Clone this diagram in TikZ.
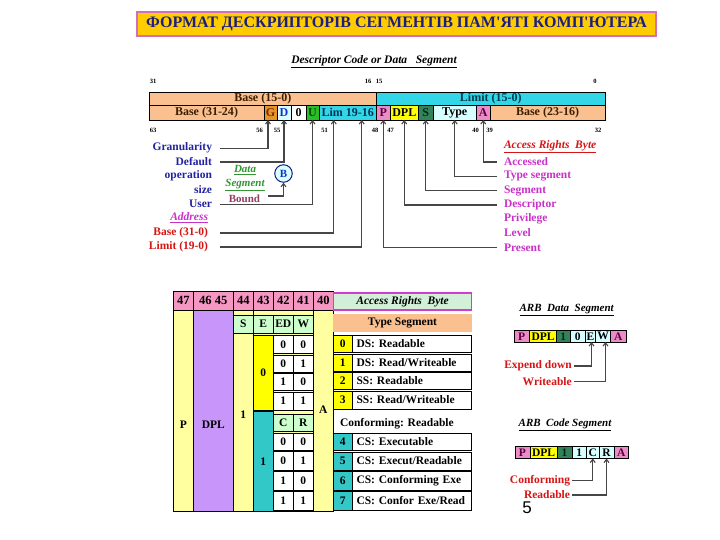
\documentclass[tikz,border=0pt]{standalone}
\usepackage{fontspec}
\setmainfont{Liberation Serif}
\newfontfamily\sansf{Liberation Sans}
\usetikzlibrary{arrows.meta}
\definecolor{peach}{RGB}{250,192,143}
\definecolor{regcyan}{RGB}{51,214,230}
\definecolor{gorange}{RGB}{230,150,40}
\definecolor{lcyan}{RGB}{215,255,255}
\definecolor{ugreen}{RGB}{40,190,40}
\definecolor{ppink}{RGB}{235,140,200}
\definecolor{dyellow}{RGB}{255,255,0}
\definecolor{sgreen}{RGB}{51,130,90}
\definecolor{hdrpink}{RGB}{245,150,195}
\definecolor{lyellow}{RGB}{255,255,160}
\definecolor{lavender}{RGB}{200,150,250}
\definecolor{lgreen}{RGB}{204,255,204}
\definecolor{tcyan}{RGB}{51,200,200}
\definecolor{argreen}{RGB}{210,240,215}
\definecolor{armag}{RGB}{210,60,210}
\definecolor{titlegold}{RGB}{255,204,0}
\definecolor{titleborder}{RGB}{210,110,190}
\definecolor{navy}{RGB}{30,30,130}
\definecolor{lblue}{RGB}{35,35,160}
\definecolor{lred}{RGB}{215,20,20}
\definecolor{lmag}{RGB}{200,50,200}
\definecolor{dgreen}{RGB}{50,150,50}
\definecolor{plum}{RGB}{150,60,100}
\definecolor{lgray}{RGB}{70,70,70}
\definecolor{brn}{RGB}{60,30,0}
\definecolor{tealtext}{RGB}{0,60,80}
\definecolor{gtext}{RGB}{120,40,0}
\definecolor{dtext}{RGB}{20,50,200}
\definecolor{utext}{RGB}{0,80,0}
\definecolor{limtext}{RGB}{0,50,90}
\definecolor{ptext}{RGB}{90,0,60}
\definecolor{stext}{RGB}{0,40,20}
\newcommand{\mycell}[7]{%
  \pgfmathsetmacro\myw{#4-#2}\pgfmathsetmacro\myh{#5-#3}%
  \pgfmathsetmacro\myx{(#2+#4)/2}\pgfmathsetmacro\myy{(#3+#5)/2}%
  \node[cellbox,minimum width=\myw pt,minimum height=\myh pt,#6] (#1) at (\myx,\myy) {#7};}
\newcommand{\mycellL}[7]{%
  \pgfmathsetmacro\myw{#4-#2}\pgfmathsetmacro\myh{#5-#3}\pgfmathsetmacro\mytw{#4-#2-9}%
  \pgfmathsetmacro\myx{(#2+#4)/2}\pgfmathsetmacro\myy{(#3+#5)/2}%
  \node[cellbox,minimum width=\myw pt,minimum height=\myh pt,text width=\mytw pt,align=left,inner xsep=4.5pt,#6] (#1) at (\myx,\myy) {#7};}
\tikzset{
  cellbox/.style={draw=black,line width=0.6pt,inner sep=0pt,outer sep=0pt,font=\bfseries\fontsize{11.5}{12}\selectfont},
  regf/.style={font=\bfseries\fontsize{12}{12}\selectfont},
  hfont/.style={font=\bfseries\fontsize{12.5}{13}\selectfont},
  lab/.style={inner sep=0pt,outer sep=0pt,font=\bfseries\fontsize{11.5}{12}\selectfont},
  bitn/.style={inner sep=0pt,font=\bfseries\fontsize{6.5}{7}\selectfont},
  conn/.style={draw=lgray,line width=1.1pt,-{Straight Barb[length=3.2pt,width=5pt]}},
}
\begin{document}
\begin{tikzpicture}[x=1pt,y=-1pt]
\useasboundingbox (0,0) rectangle (720,540);
\fill[white] (0,0) rectangle (720,540);
% title
\node[draw=titleborder,line width=1.2pt,fill=titlegold,minimum width=519pt,minimum height=24pt,inner sep=0pt,text=navy,font=\bfseries\fontsize{16}{17}\selectfont] (title) at (396.5,24) {ФОРМАТ ДЕСКРИПТОРІВ СЕГМЕНТІВ ПАМ\textquotesingle ЯТІ КОМП\textquotesingle ЮТЕРА};
\node[lab,font=\bfseries\itshape\fontsize{11.5}{12}\selectfont] (dhead) at (374,62) {\underline{Descriptor Code or Data~~~Segment}};
% bit numbers
\node[bitn] (n31) at (153,81.5) {31};
\node[bitn] (n16) at (368,81.5) {16};
\node[bitn] (n15) at (379,81.5) {15};
\node[bitn] (n0) at (595,81.5) {0};
\node[bitn] (n63) at (153,130.5) {63};
\node[bitn] (n56) at (259.5,130.5) {56};
\node[bitn] (n55) at (277,130.5) {55};
\node[bitn] (n51) at (324.5,130.5) {51};
\node[bitn] (n48) at (375,130.5) {48};
\node[bitn] (n47) at (390.5,130.5) {47};
\node[bitn] (n40) at (475.5,130.5) {40};
\node[bitn] (n39) at (489.5,130.5) {39};
\node[bitn] (n32) at (598,130.5) {32};
% register
\mycell{btop}{149}{92}{376.5}{105.5}{fill=peach,text=brn,regf}{Base (15-0)}
\mycell{ltop}{376.5}{92}{605}{105.5}{fill=regcyan,text=tealtext,regf}{Limit (15-0)}
\mycell{b3124}{149}{105.5}{264}{120}{fill=peach,text=brn,regf}{Base (31-24)}
\mycell{G}{264}{105.5}{277}{120}{fill=gorange,text=gtext,regf}{G}
\mycell{D}{277}{105.5}{291}{120}{fill=lcyan,text=dtext,regf}{D}
\mycell{zr}{291}{105.5}{306}{120}{fill=white,regf}{0}
\mycell{U}{306}{105.5}{319}{120}{fill=ugreen,text=utext,regf}{U}
\mycell{lim}{319}{105.5}{376.5}{120}{fill=regcyan,text=limtext,regf}{Lim 19-16}
\mycell{P}{376.5}{105.5}{390}{120}{fill=ppink,text=ptext,regf}{P}
\mycell{DPL}{390}{105.5}{418.5}{120}{fill=dyellow,regf}{DPL}
\mycell{S}{418.5}{105.5}{433}{120}{fill=sgreen,text=stext,regf}{S}
\mycell{type}{433}{105.5}{476.5}{120}{fill=lcyan,regf}{Type}
\mycell{A}{476.5}{105.5}{490}{120}{fill=ppink,text=ptext,regf}{A}
\mycell{b2316}{490}{105.5}{605}{120}{fill=peach,text=brn,regf}{Base (23-16)}
% left labels
\node[lab,anchor=east,text=lblue] (gran) at (212,147.5) {Granularity};
\node[lab,anchor=east,text=lblue] (deflt) at (212,161.5) {Default};
\node[lab,anchor=east,text=lblue] (oper) at (212,175.5) {operation};
\node[lab,anchor=east,text=lblue] (sizel) at (212,190) {size};
\node[lab,anchor=east,text=lblue] (user) at (212,204) {User};
\node[lab,anchor=east,text=lmag,font=\bfseries\itshape\fontsize{11.5}{12}\selectfont] (addr) at (208,218) {\underline{Address}};
\node[lab,anchor=east,text=lred] (base) at (208,232.5) {Base (31-0)};
\node[lab,anchor=east,text=lred] (limit) at (208,247) {Limit (19-0)};
\node[lab,text=dgreen,font=\bfseries\itshape\fontsize{11}{12}\selectfont] (dseg1) at (245,170) {\underline{Data}};
\node[lab,text=dgreen,font=\bfseries\itshape\fontsize{11}{12}\selectfont] (dseg2) at (245,185) {\underline{Segment}};
\node[lab,text=plum,font=\bfseries\fontsize{11}{12}\selectfont] (bound) at (244.5,199) {Bound};
\node[circle,draw=navy,fill=lcyan,line width=1pt,minimum size=17.5pt,inner sep=0pt,text=dtext,font=\bfseries\fontsize{11}{12}\selectfont] (bc) at (283.5,173.5) {B};
% right labels
\node[lab,anchor=west,text=lred,font=\bfseries\itshape\fontsize{11.5}{12}\selectfont] (arbl) at (504,146.5) {\underline{Access Rights~~Byte}};
\node[lab,anchor=west,text=lmag] (acc) at (504,161.5) {Accessed};
\node[lab,anchor=west,text=lmag] (tseg) at (504,176) {Type segment};
\node[lab,anchor=west,text=lmag] (segl) at (504,190.5) {Segment};
\node[lab,anchor=west,text=lmag] (desc) at (504,204.5) {Descriptor};
\node[lab,anchor=west,text=lmag] (priv) at (504,219) {Privilege};
\node[lab,anchor=west,text=lmag] (levl) at (504,233) {Level};
\node[lab,anchor=west,text=lmag] (pres) at (504,247.5) {Present};
% connectors
\draw[conn] ([xshift=8pt,yshift=-1pt]gran.east) -| ([xshift=-2.5pt]G.south);
\draw[conn] ([xshift=8pt,yshift=-0.5pt]deflt.east) -| (D.south);
\draw[conn] ([xshift=8pt,yshift=-0.5pt]user.east) -| (U.south);
\draw[conn] ([xshift=12pt,yshift=-0.5pt]base.east) -| ([xshift=-14pt]lim.south);
\draw[conn] ([xshift=12pt]limit.east) -| ([xshift=14pt]lim.south);
\draw[conn] ([xshift=8pt,yshift=3pt]bound.east) -| (bc.south);
\draw[conn] ([xshift=-7pt,yshift=-0.5pt]acc.west) -| (A.south);
\draw[conn] ([xshift=-7pt,yshift=-0.5pt]tseg.west) -| (type.south);
\draw[conn] ([xshift=-7pt]segl.west) -| (S.south);
\draw[conn] ([xshift=-7pt,yshift=-0.5pt]desc.west) -| (DPL.south);
\draw[conn] ([xshift=-7pt]pres.west) -| (P.south);
% table left part
\fill[lyellow] (173.3,310) rectangle (333.3,511.5);
\mycell{h47}{173.3}{291.5}{193.3}{310}{fill=hdrpink,hfont}{47}
\mycell{h4645}{193.3}{291.5}{233.3}{310}{fill=hdrpink,hfont}{46 45}
\mycell{h44}{233.3}{291.5}{253.3}{310}{fill=hdrpink,hfont}{44}
\mycell{h43}{253.3}{291.5}{273.3}{310}{fill=hdrpink,hfont}{43}
\mycell{h42}{273.3}{291.5}{293.3}{310}{fill=hdrpink,hfont}{42}
\mycell{h41}{293.3}{291.5}{313.3}{310}{fill=hdrpink,hfont}{41}
\mycell{h40}{313.3}{291.5}{333.3}{310}{fill=hdrpink,hfont}{40}
\mycell{cP}{173.3}{310}{193.3}{511.5}{fill=lyellow}{}
\mycell{cDPL}{193.3}{310}{233.3}{511.5}{fill=lavender}{}
\mycell{c44}{233.3}{310}{253.3}{511.5}{fill=lyellow}{}
\mycell{c40}{313.3}{310}{333.3}{511.5}{fill=lyellow}{}
\node[lab] (tP) at (183.3,424.5) {P};
\node[lab] (tDPL) at (213.3,424.5) {DPL};
\node[lab] (t44) at (243.3,415) {1};
\node[lab] (t40) at (323.3,409.5) {A};
\mycell{sS}{233.3}{315}{253.3}{333}{fill=lgreen}{S}
\mycell{sE}{253.3}{315}{273.3}{333}{fill=lgreen}{E}
\mycell{sED}{273.3}{315}{293.3}{333}{fill=lgreen}{ED}
\mycell{sW}{293.3}{315}{313.3}{333}{fill=lgreen}{W}
\mycell{eyel}{253.3}{335}{273.3}{410}{fill=dyellow}{0}
\mycell{a1}{273.3}{335}{293.3}{353.5}{fill=white}{0}
\mycell{b1}{293.3}{335}{313.3}{353.5}{fill=white}{0}
\mycell{a2}{273.3}{355}{293.3}{372}{fill=white}{0}
\mycell{b2}{293.3}{355}{313.3}{372}{fill=white}{1}
\mycell{a3}{273.3}{373.5}{293.3}{390.5}{fill=white}{1}
\mycell{b3}{293.3}{373.5}{313.3}{390.5}{fill=white}{0}
\mycell{a4}{273.3}{392}{293.3}{410}{fill=white}{1}
\mycell{b4}{293.3}{392}{313.3}{410}{fill=white}{1}
\mycell{ecyan}{253.3}{411.7}{273.3}{511.5}{fill=tcyan}{1}
\mycell{sC}{273.3}{414.5}{293.3}{431.7}{fill=lgreen}{C}
\mycell{sR}{293.3}{414.5}{313.3}{431.7}{fill=lgreen}{R}
\mycell{a5}{273.3}{433.3}{293.3}{450}{fill=white}{0}
\mycell{b5}{293.3}{433.3}{313.3}{450}{fill=white}{0}
\mycell{a6}{273.3}{451.7}{293.3}{470}{fill=white}{0}
\mycell{b6}{293.3}{451.7}{313.3}{470}{fill=white}{1}
\mycell{a7}{273.3}{471.7}{293.3}{490}{fill=white}{1}
\mycell{b7}{293.3}{471.7}{313.3}{490}{fill=white}{0}
\mycell{a8}{273.3}{491.7}{293.3}{510}{fill=white}{1}
\mycell{b8}{293.3}{491.7}{313.3}{510}{fill=white}{1}
\draw[line width=0.8pt] (173.3,291.5) rectangle (333.3,511.5);
% table right part
\mycell{arbh}{333.3}{293}{471.7}{310}{fill=argreen,draw=armag,line width=1.2pt,font=\bfseries\itshape\fontsize{11.5}{12}\selectfont}{Access Rights~~Byte}
\mycell{tsh}{333.3}{314}{471.7}{332}{fill=peach,draw=none}{Type Segment}
\mycell{k0}{333.3}{335}{352}{352.5}{fill=dyellow}{0}
\mycellL{d0}{352}{335}{471.7}{352.5}{fill=white}{DS: Readable}
\mycell{k1}{333.3}{354}{352}{371}{fill=dyellow}{1}
\mycellL{d1}{352}{354}{471.7}{371}{fill=white}{DS: Read/Writeable}
\mycell{k2}{333.3}{372.5}{352}{389.5}{fill=dyellow}{2}
\mycellL{d2}{352}{372.5}{471.7}{389.5}{fill=white}{SS: Readable}
\mycell{k3}{333.3}{391}{352}{409}{fill=dyellow}{3}
\mycellL{d3}{352}{391}{471.7}{409}{fill=white}{SS: Read/Writeable}
\node[lab,anchor=west] (confr) at (340,423.5) {Conforming: Readable};
\mycell{k4}{333.3}{433}{352}{450.5}{fill=tcyan}{4}
\mycellL{d4}{352}{433}{471.7}{450.5}{fill=white}{CS: Executable}
\mycell{k5}{333.3}{452}{352}{470}{fill=tcyan}{5}
\mycellL{d5}{352}{452}{471.7}{470}{fill=white}{CS: Execut/Readable}
\mycell{k6}{333.3}{471.7}{352}{490}{fill=tcyan}{6}
\mycellL{d6}{352}{471.7}{471.7}{490}{fill=white}{CS: Conforming Exe}
\mycell{k7}{333.3}{491.7}{352}{510}{fill=tcyan}{7}
\mycellL{d7}{352}{491.7}{471.7}{510}{fill=white}{CS: Confor Exe/Read}
% ARB data segment
\node[lab,font=\bfseries\itshape\fontsize{11}{12}\selectfont] (arbdt) at (566.7,310) {\underline{ARB~~Data~~Segment}};
\mycell{dP}{514}{330.5}{529.5}{342}{fill=ppink,text=ptext}{P}
\mycell{dDPL}{529.5}{330.5}{556.5}{342}{fill=dyellow}{DPL}
\mycell{d1b}{556.5}{330.5}{570}{342}{fill=sgreen,text=stext}{1}
\mycell{d0b}{570}{330.5}{585.5}{342}{fill=lcyan}{0}
\mycell{dE}{585.5}{330.5}{595.5}{342}{fill=lcyan}{E}
\mycell{dW}{595.5}{330.5}{610.5}{342}{fill=lcyan}{W}
\mycell{dA}{610.5}{330.5}{626}{342}{fill=ppink,text=ptext}{A}
\node[lab,anchor=east,text=lred] (expd) at (571.7,366) {Expend down};
\node[lab,anchor=east,text=lred] (wrt) at (571.7,381.5) {Writeable};
\draw[conn] ([xshift=2pt]expd.east) -| ([xshift=1pt]dE.south);
\draw[conn] ([xshift=2pt]wrt.east) -| ([xshift=2.5pt]dW.south);
% ARB code segment
\node[lab,font=\bfseries\itshape\fontsize{11}{12}\selectfont] (arbct) at (565,425) {\underline{ARB~~Code Segment}};
\mycell{cPb}{515}{446}{530}{458.5}{fill=ppink,text=ptext}{P}
\mycell{cDPLb}{530}{446}{557}{458.5}{fill=dyellow}{DPL}
\mycell{c1a}{557}{446}{572}{458.5}{fill=sgreen,text=stext}{1}
\mycell{c1b}{572}{446}{586.5}{458.5}{fill=lcyan}{1}
\mycell{cC}{586.5}{446}{599}{458.5}{fill=lcyan}{C}
\mycell{cR}{599}{446}{614}{458.5}{fill=lcyan}{R}
\mycell{cAb}{614}{446}{628.5}{458.5}{fill=ppink,text=ptext}{A}
\node[lab,anchor=east,text=lred] (confl) at (570,480.7) {Conforming};
\node[lab,anchor=east,text=lred] (readl) at (570,495) {Readable};
\draw[conn] ([xshift=2pt]confl.east) -| (cC.south);
\draw[conn] ([xshift=2pt]readl.east) -| (cR.south);
% page number
\node[inner sep=0pt,font=\sansf\fontsize{17}{18}\selectfont] (pnum) at (527,508) {5};
\end{tikzpicture}
\end{document}
